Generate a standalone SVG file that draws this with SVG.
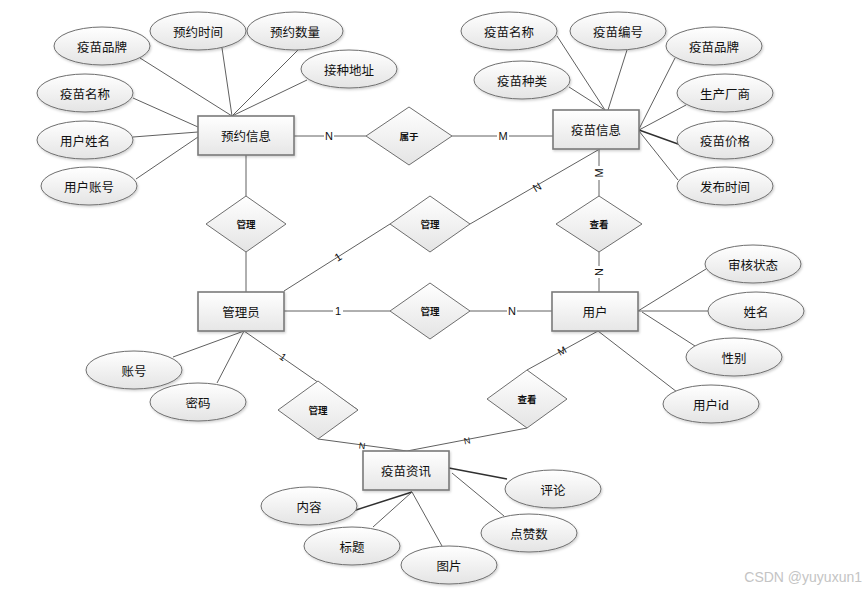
<svg xmlns="http://www.w3.org/2000/svg" width="866" height="591" viewBox="0 0 866 591">
<defs>
<linearGradient id="gE" x1="0" y1="0" x2="0" y2="1"><stop offset="0" stop-color="#ffffff"/><stop offset="1" stop-color="#e4e4e4"/></linearGradient>
<linearGradient id="gR" x1="0" y1="0" x2="0" y2="1"><stop offset="0" stop-color="#ffffff"/><stop offset="1" stop-color="#e6e6e6"/></linearGradient>
<filter id="sh" x="-10%" y="-10%" width="130%" height="140%"><feDropShadow dx="1" dy="1.5" stdDeviation="0.8" flood-color="#000" flood-opacity="0.18"/></filter>
</defs>
<style>
.e{fill:url(#gE);stroke:#6e6e6e;stroke-width:1;filter:url(#sh)}
.r{fill:url(#gR);stroke:#7a7a7a;stroke-width:1.6;filter:url(#sh)}
.d{fill:url(#gE);stroke:#6e6e6e;stroke-width:1}
.t{font-family:"Noto Sans CJK SC","Liberation Sans",sans-serif;font-size:12.5px;fill:#111;text-anchor:middle;dominant-baseline:central}
.dt{font-family:"Noto Sans CJK SC","Liberation Sans",sans-serif;font-size:9.5px;font-weight:bold;fill:#111;text-anchor:middle;dominant-baseline:central}
.c line{stroke:#606060;stroke-width:1}
.c .k{stroke:#303030;stroke-width:1.4}
.l{font-family:"Liberation Sans",sans-serif;font-size:11px;fill:#111;text-anchor:middle;dominant-baseline:central}
.lb{fill:#fff}
</style>
<rect width="866" height="591" fill="#fff"/>
<g id="connectors" class="c">
<line x1="140" y1="58" x2="232" y2="116"/>
<line x1="222" y1="48" x2="232" y2="116"/>
<line x1="298" y1="50" x2="232" y2="116"/>
<line x1="307" y1="80" x2="232" y2="116"/>
<line x1="133" y1="98" x2="198" y2="127"/>
<line x1="133" y1="137" x2="198" y2="132"/>
<line x1="136" y1="179" x2="198" y2="137"/>
<line x1="294" y1="136" x2="366" y2="136"/>
<line x1="452" y1="136" x2="553" y2="136"/>
<line x1="557" y1="36" x2="605" y2="110"/>
<line x1="627" y1="50" x2="608" y2="110"/>
<line x1="569" y1="87" x2="605" y2="110"/>
<line x1="675" y1="58" x2="639" y2="129"/>
<line x1="686" y1="105" x2="639" y2="130"/>
<line class="k" x1="678" y1="144" x2="639" y2="130"/>
<line x1="678" y1="180" x2="639" y2="131"/>
<line x1="246" y1="155" x2="246" y2="196"/>
<line x1="246" y1="252" x2="246" y2="292"/>
<line x1="284" y1="291" x2="390" y2="224"/>
<line x1="470" y1="224" x2="598" y2="150"/>
<line x1="599" y1="149" x2="599" y2="196"/>
<line x1="599" y1="252" x2="599" y2="292"/>
<line x1="284" y1="311" x2="390" y2="311"/>
<line x1="470" y1="311" x2="552" y2="311"/>
<line x1="706" y1="269" x2="638" y2="311"/>
<line x1="708" y1="311" x2="638" y2="311"/>
<line x1="695" y1="346" x2="642" y2="312"/>
<line x1="677" y1="392" x2="598" y2="331"/>
<line x1="598" y1="331" x2="527" y2="370"/>
<line x1="173" y1="357" x2="244" y2="331"/>
<line x1="217" y1="383" x2="244" y2="331"/>
<line x1="244" y1="331" x2="358" y2="410"/>
<line x1="318" y1="439" x2="407" y2="451"/>
<line x1="527" y1="428" x2="407" y2="451"/>
<line class="k" x1="507" y1="479" x2="449" y2="468"/>
<line x1="504" y1="516" x2="452" y2="473"/>
<line class="k" x1="356" y1="510" x2="412" y2="492"/>
<line x1="373" y1="527" x2="412" y2="492"/>
<line x1="442" y1="546" x2="412" y2="492"/>
<g id="labels">
<rect class="lb" x="324" y="130" width="10" height="12"/><text class="l" x="329" y="136">N</text>
<rect class="lb" x="497" y="130" width="12" height="12"/><text class="l" x="503" y="136">M</text>
<text class="l" x="338" y="257" transform="rotate(-32 338 257)">1</text>
<text class="l" x="537" y="187" transform="rotate(-30 537 187)">N</text>
<rect class="lb" x="593" y="166" width="12" height="14"/><text class="l" x="599" y="173" transform="rotate(-90 599 173)">M</text>
<rect class="lb" x="593" y="266" width="12" height="12"/><text class="l" x="599" y="272" transform="rotate(-90 599 272)">N</text>
<rect class="lb" x="333" y="305" width="10" height="12"/><text class="l" x="338" y="311">1</text>
<rect class="lb" x="507" y="305" width="10" height="12"/><text class="l" x="512" y="311">N</text>
<text class="l" x="283" y="357" transform="rotate(35 283 357)" style="font-size:10px">1</text>
<text class="l" x="562" y="351" transform="rotate(-29 562 351)" style="font-size:10px">M</text>
<text class="l" x="362" y="446" transform="rotate(7 362 446)" style="font-size:9px">N</text>
<text class="l" x="467" y="441" transform="rotate(-11 467 441)" style="font-size:9px">N</text>
</g>
</g>
<g id="yuyue"><rect class="r" x="198" y="116" width="96" height="39"/><text class="t" x="246" y="135.5">预约信息</text></g>
<g id="yimiao"><rect class="r" x="553" y="110" width="86" height="39"/><text class="t" x="596" y="129.5">疫苗信息</text></g>
<g id="admin"><rect class="r" x="198" y="292" width="86" height="39"/><text class="t" x="241" y="311.5">管理员</text></g>
<g id="user"><rect class="r" x="552" y="292" width="86" height="39"/><text class="t" x="595" y="311.5">用户</text></g>
<g id="zixun"><rect class="r" x="363" y="451" width="86" height="39"/><text class="t" x="406" y="470.5">疫苗资讯</text></g>
<g id="d-shuyu"><polygon class="d" points="366,136 409,107 452,136 409,165"/><text class="dt" x="409" y="136">属于</text></g>
<g id="d-guanli1"><polygon class="d" points="206,224 246,196 286,224 246,252"/><text class="dt" x="246" y="224">管理</text></g>
<g id="d-guanli2"><polygon class="d" points="390,224 430,196 470,224 430,252"/><text class="dt" x="430" y="224">管理</text></g>
<g id="d-chakan1"><polygon class="d" points="556,224 599,196 642,224 599,252"/><text class="dt" x="599" y="224">查看</text></g>
<g id="d-guanli3"><polygon class="d" points="390,311 430,283 470,311 430,339"/><text class="dt" x="430" y="311">管理</text></g>
<g id="d-guanli4"><polygon class="d" points="278,410 318,381 358,410 318,439"/><text class="dt" x="318" y="410">管理</text></g>
<g id="d-chakan2"><polygon class="d" points="487,399 527,370 567,399 527,428"/><text class="dt" x="527" y="399">查看</text></g>
<g id="a1"><ellipse class="e" cx="102" cy="46" rx="48" ry="19"/><text class="t" x="102" y="46">疫苗品牌</text></g>
<g id="a2"><ellipse class="e" cx="198" cy="31" rx="48" ry="19"/><text class="t" x="198" y="31">预约时间</text></g>
<g id="a3"><ellipse class="e" cx="295" cy="31" rx="48" ry="19"/><text class="t" x="295" y="31">预约数量</text></g>
<g id="a4"><ellipse class="e" cx="349" cy="69" rx="48" ry="19"/><text class="t" x="349" y="69">接种地址</text></g>
<g id="a5"><ellipse class="e" cx="85" cy="93" rx="48" ry="19"/><text class="t" x="85" y="93">疫苗名称</text></g>
<g id="a6"><ellipse class="e" cx="85" cy="140" rx="48" ry="19"/><text class="t" x="85" y="140">用户姓名</text></g>
<g id="a7"><ellipse class="e" cx="89" cy="186" rx="48" ry="19"/><text class="t" x="89" y="186">用户账号</text></g>
<g id="b1"><ellipse class="e" cx="509" cy="31" rx="48" ry="19"/><text class="t" x="509" y="31">疫苗名称</text></g>
<g id="b2"><ellipse class="e" cx="618" cy="31" rx="48" ry="19"/><text class="t" x="618" y="31">疫苗编号</text></g>
<g id="b3"><ellipse class="e" cx="714" cy="46" rx="48" ry="19"/><text class="t" x="714" y="46">疫苗品牌</text></g>
<g id="b4"><ellipse class="e" cx="522" cy="80" rx="48" ry="19"/><text class="t" x="522" y="80">疫苗种类</text></g>
<g id="b5"><ellipse class="e" cx="725" cy="93" rx="48" ry="19"/><text class="t" x="725" y="93">生产厂商</text></g>
<g id="b6"><ellipse class="e" cx="725" cy="140" rx="48" ry="19"/><text class="t" x="725" y="140">疫苗价格</text></g>
<g id="b7"><ellipse class="e" cx="725" cy="186" rx="48" ry="19"/><text class="t" x="725" y="186">发布时间</text></g>
<g id="c1"><ellipse class="e" cx="753" cy="264" rx="48" ry="19"/><text class="t" x="753" y="264">审核状态</text></g>
<g id="c2"><ellipse class="e" cx="756" cy="311" rx="48" ry="19"/><text class="t" x="756" y="311">姓名</text></g>
<g id="c3"><ellipse class="e" cx="734" cy="357" rx="48" ry="19"/><text class="t" x="734" y="357">性别</text></g>
<g id="c4"><ellipse class="e" cx="711" cy="404" rx="48" ry="19"/><text class="t" x="711" y="404">用户id</text></g>
<g id="m1"><ellipse class="e" cx="134" cy="370" rx="48" ry="19"/><text class="t" x="134" y="370">账号</text></g>
<g id="m2"><ellipse class="e" cx="198" cy="402" rx="48" ry="19"/><text class="t" x="198" y="402">密码</text></g>
<g id="z1"><ellipse class="e" cx="553" cy="489" rx="48" ry="19"/><text class="t" x="553" y="489">评论</text></g>
<g id="z2"><ellipse class="e" cx="309" cy="506" rx="48" ry="19"/><text class="t" x="309" y="506">内容</text></g>
<g id="z3"><ellipse class="e" cx="529" cy="533" rx="48" ry="19"/><text class="t" x="529" y="533">点赞数</text></g>
<g id="z4"><ellipse class="e" cx="352" cy="546" rx="48" ry="19"/><text class="t" x="352" y="546">标题</text></g>
<g id="z5"><ellipse class="e" cx="449" cy="565" rx="48" ry="19"/><text class="t" x="449" y="565">图片</text></g>
<text x="862" y="577" font-family="Liberation Sans, sans-serif" font-size="14" fill="#c4c4c4" text-anchor="end" dominant-baseline="central">CSDN @yuyuxun1</text>
</svg>
